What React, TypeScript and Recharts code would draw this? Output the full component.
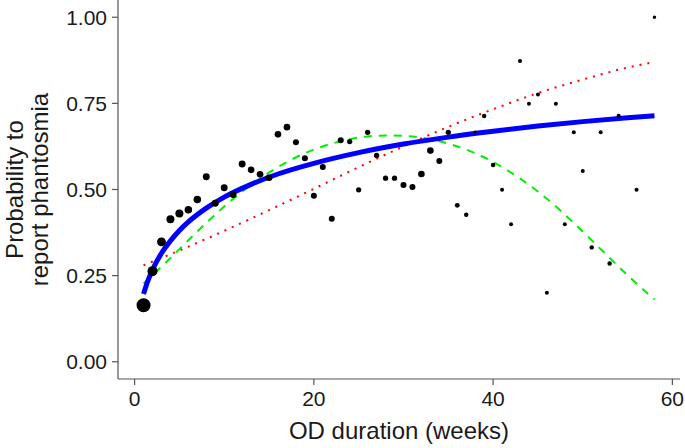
import {
    ComposedChart,
    Scatter,
    Line,
    XAxis,
    YAxis,
    ZAxis,
} from 'recharts';

// observed proportions per week of OD duration (n = participants, sets dot area)
const WEEKS = [1, 2, 3, 4, 5, 6, 7, 8, 9, 10, 11, 12, 13, 14, 15, 16, 17, 18, 19, 20, 21, 22, 23, 24, 25, 26, 27, 28, 29, 30, 31, 32, 33, 34, 35, 36, 37, 38, 39, 40, 41, 42, 43, 44, 45, 46, 47, 48, 49, 50, 51, 52, 53, 54, 56, 58];
const PROB = [0.164, 0.263, 0.348, 0.414, 0.43, 0.441, 0.471, 0.537, 0.46, 0.505, 0.485, 0.574, 0.557, 0.544, 0.534, 0.66, 0.681, 0.637, 0.591, 0.482, 0.565, 0.415, 0.643, 0.639, 0.499, 0.666, 0.599, 0.533, 0.533, 0.513, 0.507, 0.545, 0.613, 0.583, 0.666, 0.454, 0.427, 0.667, 0.713, 0.571, 0.499, 0.399, 0.873, 0.749, 0.776, 0.2, 0.749, 0.399, 0.666, 0.554, 0.332, 0.666, 0.285, 0.714, 0.499, 1.0];
const N = [49, 25, 20, 16, 16, 14, 14, 12, 12, 12, 11, 12, 11, 11, 11, 11, 11, 9, 9, 9, 9, 9, 9, 7, 7, 7, 7, 7, 7, 9, 9, 11, 11, 9, 7, 6, 5, 2, 5, 5, 4, 4, 4, 4, 4, 4, 4, 4, 4, 4, 5, 4, 5, 4, 4, 3];

// fitted curves
const LOG_X = [1, 1.5, 2, 3, 4, 5, 6, 8, 10, 13, 16, 20, 25, 30, 35, 40, 45, 50, 55, 58];
const LOG_Y = [0.197, 0.236, 0.267, 0.315, 0.351, 0.381, 0.406, 0.446, 0.478, 0.515, 0.545, 0.576, 0.607, 0.632, 0.652, 0.669, 0.684, 0.697, 0.708, 0.714];

const LIN_X = [1, 5, 10, 15, 20, 25, 30, 35, 40, 45, 50, 55, 58];
const LIN_Y = [0.28, 0.323, 0.38, 0.44, 0.502, 0.565, 0.625, 0.682, 0.733, 0.78, 0.819, 0.854, 0.87];

const QUAD_X = [1, 3, 5, 8, 11, 14, 17, 20, 23, 26, 28.5, 31, 34, 37, 40, 43, 46, 49, 52, 55, 58];
const QUAD_Y = [0.227, 0.276, 0.327, 0.403, 0.473, 0.532, 0.58, 0.616, 0.64, 0.654, 0.657, 0.654, 0.64, 0.616, 0.58, 0.532, 0.473, 0.403, 0.327, 0.251, 0.181];

const X_TICKS = [0, 20, 40, 60];
const Y_TICKS = [0, 0.25, 0.5, 0.75, 1];

const points = WEEKS.map((x, i) => ({ x, y: PROB[i], n: N[i] }));
const logFit = LOG_X.map((x, i) => ({ x, y: LOG_Y[i] }));
const linFit = LIN_X.map((x, i) => ({ x, y: LIN_Y[i] }));
const quadFit = QUAD_X.map((x, i) => ({ x, y: QUAD_Y[i] }));

const FONT = '"Liberation Sans", Arial, sans-serif';
const AXIS_COLOR = '#555';
const tickStyle = { fontSize: 21, fill: '#1a1a1a', fontFamily: FONT };

function YTitle({ viewBox }: any) {
    const cy = viewBox.y + viewBox.height / 2;
    const lines = [
        { x: 14, text: 'Probability to' },
        { x: 39, text: 'report phantosmia' },
    ];
    return (
        <g>
            {lines.map((l) => (
                <text
                    key={l.text}
                    x={l.x}
                    y={cy}
                    transform={`rotate(-90 ${l.x} ${cy})`}
                    textAnchor="middle"
                    dominantBaseline="central"
                    fontSize={24}
                    fontFamily={FONT}
                    fill="#1a1a1a"
                >
                    {l.text}
                </text>
            ))}
        </g>
    );
}

export default function App() {
    return (
        <div style={{ position: 'absolute', left: 0, top: 0, background: '#fff' }}>
            <ComposedChart width={685} height={448} margin={{ top: 0, right: 5, left: 0, bottom: 0 }}>
                <XAxis
                    type="number"
                    dataKey="x"
                    domain={[-1.85, 60.85]}
                    ticks={X_TICKS}
                    allowDataOverflow
                    height={69}
                    tick={tickStyle}
                    tickSize={6}
                    tickMargin={6}
                    axisLine={{ stroke: AXIS_COLOR, strokeWidth: 1.2 }}
                    tickLine={{ stroke: AXIS_COLOR, strokeWidth: 1.2 }}
                    label={{ value: 'OD duration (weeks)', position: 'insideBottom', offset: 9, fontSize: 24, fill: '#1a1a1a', fontFamily: FONT }}
                />
                <YAxis
                    type="number"
                    dataKey="y"
                    domain={[-0.05, 1.05]}
                    ticks={Y_TICKS}
                    allowDataOverflow
                    width={118}
                    tick={tickStyle}
                    tickSize={6}
                    tickMargin={5}
                    tickFormatter={(v: number) => v.toFixed(2)}
                    axisLine={{ stroke: AXIS_COLOR, strokeWidth: 1.2 }}
                    tickLine={{ stroke: AXIS_COLOR, strokeWidth: 1.2 }}
                    label={{ content: YTitle }}
                />
                <ZAxis type="number" dataKey="n" domain={[0, 49]} range={[0, 154]} />
                <Scatter data={points} fill="#000" isAnimationActive={false} />
                <Line data={linFit} dataKey="y" type="monotone" stroke="#ff0000" strokeWidth={2} strokeDasharray="2 6" dot={false} activeDot={false} isAnimationActive={false} />
                <Line data={quadFit} dataKey="y" type="monotone" stroke="#00ee00" strokeWidth={2} strokeDasharray="8 7" dot={false} activeDot={false} isAnimationActive={false} />
                <Line data={logFit} dataKey="y" type="monotone" stroke="#0000ff" strokeWidth={5} dot={false} activeDot={false} isAnimationActive={false} />
            </ComposedChart>
        </div>
    );
}
